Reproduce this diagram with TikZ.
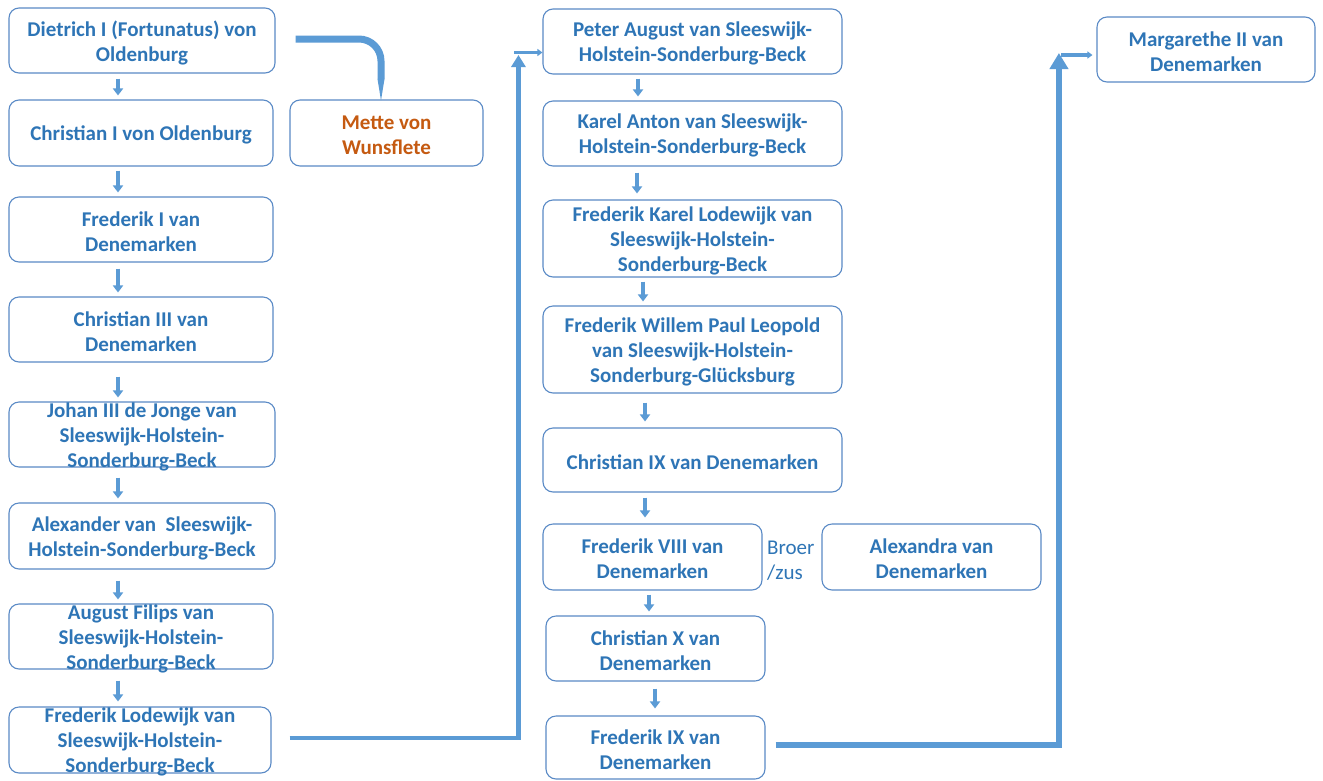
\documentclass[tikz,border=0pt]{standalone}
\usepackage{fontspec}
\setmainfont{Carlito}
\usetikzlibrary{calc,arrows.meta}
\definecolor{txtblue}{HTML}{2E75B6}
\definecolor{boxline}{HTML}{5A8AC6}
\definecolor{conncol}{HTML}{5B9BD5}
\definecolor{orangetxt}{HTML}{C55A11}
\tikzset{
  box/.style={draw=boxline, line width=1.1pt, rounded corners=10pt, fill=white, inner sep=0pt},
  txt/.style={text=txtblue, font=\fontsize{21}{25}\selectfont\bfseries, align=center, inner sep=0pt},
  dn/.style={draw=conncol, line width=3.6pt, -{Triangle[width=10pt,length=7pt]}},
  conn/.style={draw=conncol, line cap=butt},
}
\newcommand{\tbox}[6]{% name, x, y, w, h, text
  \node[box, minimum width=#4pt, minimum height=#5pt] (#1) at (#2,#3) {};
  \node[txt] (#1t) at ($(#1.center)+(0,2)$) {#6};}
\begin{document}
\begin{tikzpicture}[x=1pt,y=-1pt]
\useasboundingbox (0,0) rectangle (1323,780);
\fill[white] (0,0) rectangle (1323,780);
% left column
\tbox{L1}{142}{40.5}{266}{65}{Dietrich I (Fortunatus) von\\Oldenburg}
\tbox{L2}{141}{133}{264}{66}{Christian I von Oldenburg}
\tbox{L3}{141}{229.5}{264}{65}{Frederik I van\\Denemarken}
\tbox{L4}{141}{329.5}{264}{65}{Christian III van\\Denemarken}
\tbox{L5}{142}{434.5}{266}{65}{Johan III de Jonge van\\Sleeswijk-Holstein-\\Sonderburg-Beck}
\tbox{L6}{142}{536}{266}{66}{Alexander van\ \ Sleeswijk-\\Holstein-Sonderburg-Beck}
\tbox{L7}{141}{636.5}{264}{65}{August Filips van\\Sleeswijk-Holstein-\\Sonderburg-Beck}
\tbox{L8}{140}{740}{262}{66}{Frederik Lodewijk van\\Sleeswijk-Holstein-\\Sonderburg-Beck}
\node[box, minimum width=193pt, minimum height=66pt] (Me) at (386.5,133) {};
\node[txt, text=orangetxt] (Met) at ($(Me.center)+(0,2)$) {Mette von\\Wunsflete};
% middle column
\tbox{M1}{692.5}{41.5}{299}{65}{Peter August van Sleeswijk-\\Holstein-Sonderburg-Beck}
\tbox{M2}{692.5}{133.5}{299}{65}{Karel Anton van Sleeswijk-\\Holstein-Sonderburg-Beck}
\tbox{M3}{692.5}{238.5}{299}{77}{Frederik Karel Lodewijk van\\Sleeswijk-Holstein-\\Sonderburg-Beck}
\tbox{M4}{692.5}{349.5}{299}{87}{Frederik Willem Paul Leopold\\van Sleeswijk-Holstein-\\Sonderburg-Glücksburg}
\tbox{M5}{692.5}{460}{299}{64}{Christian IX van Denemarken}
\tbox{M6}{652.5}{557}{219}{66}{Frederik VIII van\\Denemarken}
\tbox{M7}{655.5}{648.5}{219}{65}{Christian X van\\Denemarken}
\tbox{M8}{655.5}{747.5}{219}{63}{Frederik IX van\\Denemarken}
\tbox{Al}{931.5}{557}{219}{66}{Alexandra van\\Denemarken}
\tbox{Ma}{1206}{49.5}{218}{65}{Margarethe II van\\Denemarken}
\node[text=txtblue, font=\fontsize{21}{25}\selectfont, align=left, inner sep=0pt, anchor=west] (bz) at (767,561) {Broer\\/zus};
% small down arrows
\draw[dn] ($(L1.south)+(-24,5)$) -- ($(L2.north)+(-23,-4)$);
\draw[dn] ($(L2.south)+(-23,4)$) -- ($(L3.north)+(-23,-4)$);
\draw[dn] ($(L3.south)+(-23,6)$) -- ($(L4.north)+(-23,-4)$);
\draw[dn] ($(L4.south)+(-23,14)$) -- ($(L5.north)+(-24,-4)$);
\draw[dn] ($(L5.south)+(-24,10)$) -- ($(L6.north)+(-24,-4)$);
\draw[dn] ($(L6.south)+(-24,11)$) -- ($(L7.north)+(-23,-4)$);
\draw[dn] ($(L7.south)+(-23,11)$) -- ($(L8.north)+(-22,-5)$);
\draw[dn] ($(M1.south)+(-54.5,4)$) -- ($(M2.north)+(-54.5,-4)$);
\draw[dn] ($(M2.south)+(-55.5,6)$) -- ($(M3.north)+(-55.5,-6)$);
\draw[dn] ($(M3.south)+(-49.5,4)$) -- ($(M4.north)+(-49.5,-4)$);
\draw[dn] ($(M4.south)+(-47.5,9)$) -- ($(M5.north)+(-47.5,-6)$);
\draw[dn] ($(M5.south)+(-47.5,5)$) -- ($(M6.north)+(-7.5,-6)$);
\draw[dn] ($(M6.south)+(-3.5,4)$) -- ($(M7.north)+(-6.5,-4)$);
\draw[dn] ($(M7.south)+(-0.5,7)$) -- ($(M8.north)+(-0.5,-7)$);
% Dietrich -> Mette
\coordinate (c1) at ($(Me.north)+(-5.5,-20)$);
\draw[conn, line width=7pt, rounded corners=22pt] ($(L1.east)+(20,-1.5)$) -| (c1);
\fill[conncol] ($(c1)+(-3.5,-0.5)$) -- ($(c1)+(3.5,-0.5)$) -- ($(Me.north)+(-5.5,1)$) -- cycle;
% Frederik Lodewijk -> Peter August
\coordinate (c2) at ($(M1.west)+(-24,13.5)$);
\draw[conn, line width=4.5pt, -{Triangle[width=14pt,length=12pt]}] ($(L8.east)+(18,-2)$) -| (c2);
\draw[conn, line width=3.5pt, -{Triangle[width=7pt,length=5pt]}] ($(M1.west)+(-28,11)$) -- ($(M1.west)+(0,11)$);
% Frederik IX -> Margarethe
\coordinate (c3) at ($(Ma.west)+(-37.5,3.5)$);
\draw[conn, line width=5.5pt, -{Triangle[width=18pt,length=16pt]}] ($(M8.east)+(10,-2.5)$) -| (c3);
\draw[conn, line width=3.5pt, -{Triangle[width=7pt,length=5pt]}] ($(Ma.west)+(-35,5.5)$) -- ($(Ma.west)+(-4,5.5)$);
\end{tikzpicture}
\end{document}
